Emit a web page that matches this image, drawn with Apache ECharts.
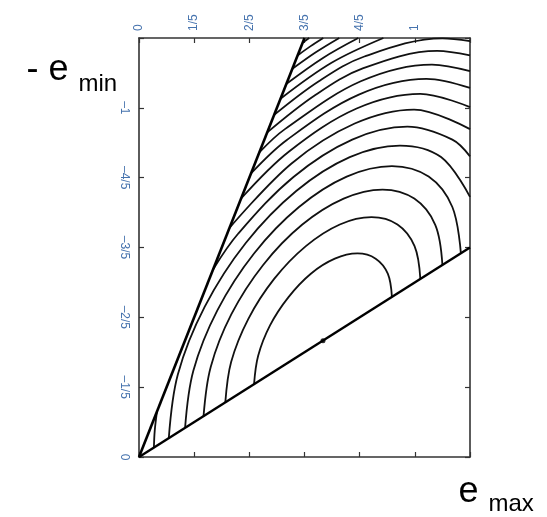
<!DOCTYPE html>
<html>
<head>
<meta charset="utf-8">
<script src="https://cdn.jsdelivr.net/npm/echarts@6/dist/echarts.min.js"></script>
<style>
  html, body { margin: 0; padding: 0; background: #fff; }
  #chart { width: 547px; height: 517px; }
</style>
</head>
<body>
<div id="chart"></div>
<script>
// Tick labels (fifths)
const xTickLabels = ['0', '1/5', '2/5', '3/5', '4/5', '1'];
const yTickLabels = ['0', '–1/5', '–2/5', '–3/5', '–4/5', '–1'];

// Wedge boundaries: e_min = -2 e_max and e_min = -e_max / 2
const upperBoundary = [[0, 0], [0.6, -1.2]];
const lowerBoundary = [[0, 0], [1.2, -0.6]];

// Uniaxial point on the lower boundary
const centerPoint = [[0.667, -0.333]];

// Level curves, innermost first ([e_max, e_min] pairs)
const level1 = [[0.917, -0.458], [0.902, -0.525], [0.858, -0.568], [0.792, -0.583], [0.710, -0.568],
                [0.623, -0.525], [0.542, -0.458], [0.475, -0.377], [0.432, -0.290], [0.417, -0.208]];
const level2 = [[1.020, -0.510], [0.999, -0.604], [0.937, -0.666], [0.843, -0.687], [0.728, -0.666],
                [0.605, -0.604], [0.490, -0.510], [0.396, -0.395], [0.334, -0.272], [0.313, -0.157]];
const level3 = [[1.100, -0.550], [1.074, -0.665], [0.998, -0.740], [0.883, -0.766], [0.742, -0.740],
                [0.591, -0.665], [0.450, -0.550], [0.335, -0.409], [0.260, -0.258], [0.234, -0.117]];
const level4 = [[1.167, -0.583], [1.136, -0.716], [1.050, -0.803], [0.917, -0.833], [0.753, -0.803],
                [0.580, -0.716], [0.417, -0.583], [0.284, -0.420], [0.197, -0.247], [0.167, -0.083]];
const level5 = [[1.2, -0.745], [1.095, -0.859], [0.946, -0.892], [0.764, -0.859], [0.570, -0.762],
                [0.387, -0.613], [0.238, -0.430], [0.141, -0.237], [0.108, -0.054]];
const level6 = [[1.2, -0.861], [1.136, -0.909], [0.973, -0.946], [0.773, -0.909], [0.560, -0.802],
                [0.360, -0.640], [0.269, -0.538]];
const level6Corner = [[0.054, -0.027], [0.057, -0.075], [0.065, -0.129]];
const level7 = [[1.2, -0.939], [0.997, -0.995], [0.782, -0.955], [0.552, -0.840], [0.328, -0.656]];
const level8 = [[1.2, -1.002], [1.020, -1.040], [0.789, -0.998], [0.544, -0.875], [0.371, -0.741]];
const level9 = [[1.2, -1.057], [1.042, -1.083], [0.797, -1.038], [0.536, -0.908], [0.406, -0.812]];
const level10 = [[1.2, -1.105], [1.062, -1.124], [0.804, -1.076], [0.529, -0.939], [0.437, -0.873]];
const level11 = [[1.2, -1.150], [1.081, -1.163], [0.811, -1.113], [0.638, -1.036], [0.464, -0.929]];
const level12 = [[1.2, -1.191], [1.100, -1.199], [0.817, -1.147], [0.652, -1.076], [0.489, -0.979]];
const level13 = [[0.886, -1.2], [0.698, -1.129], [0.513, -1.026]];
const level14 = [[0.795, -1.2], [0.667, -1.143], [0.535, -1.069]];
const level15 = [[0.726, -1.2], [0.641, -1.159], [0.555, -1.111]];
const level16 = [[0.668, -1.2], [0.621, -1.176], [0.575, -1.150]];
const level17 = [[0.617, -1.2], [0.594, -1.187]];

const levelCurves = [level1, level2, level3, level4, level5, level6, level6Corner, level7, level8,
                     level9, level10, level11, level12, level13, level14, level15, level16, level17];

const FONT = "'Liberation Sans', Arial, sans-serif";
const FRAME = '#333';
const LABEL_COLOR = '#4673ae';

function xLabel(v) { const s = xTickLabels[Math.round(v * 5)]; return s === undefined ? '' : s; }
function yLabel(v) { const s = yTickLabels[Math.round(-v * 5)]; return s === undefined ? '' : s; }

function frameAxis(extra) {
  return Object.assign({
    type: 'value',
    splitLine: { show: false },
    axisLine: { show: true, onZero: false, lineStyle: { color: FRAME, width: 1.6 } },
    axisTick: { show: true, inside: true, length: 5, lineStyle: { color: FRAME, width: 1.2 } }
  }, extra);
}

const labelStyle = { color: LABEL_COLOR, fontSize: 12, fontFamily: FONT, rotate: -90 };

const series = levelCurves.map(function (pts) {
  return {
    type: 'line', data: pts, smooth: 0.35, showSymbol: false, silent: true,
    lineStyle: { color: '#111', width: 1.8 }, z: 2
  };
});
series.push({
  type: 'line', data: upperBoundary, showSymbol: false, silent: true,
  lineStyle: { color: '#000', width: 2.6 }, z: 3
});
series.push({
  type: 'line', data: lowerBoundary, showSymbol: false, silent: true,
  lineStyle: { color: '#000', width: 2.4 }, z: 3
});
series.push({
  type: 'scatter', data: centerPoint, symbolSize: 5, silent: true,
  itemStyle: { color: '#000' }, z: 4
});

const chart = echarts.init(document.getElementById('chart'), null, { renderer: 'canvas' });
chart.setOption({
  animation: false,
  backgroundColor: '#fff',
  grid: { left: 139, top: 38, width: 331, height: 419, outerBoundsMode: 'none' },
  xAxis: [
    frameAxis({ position: 'top', min: 0, max: 1.2, interval: 0.2,
      axisLabel: Object.assign({ show: true, formatter: xLabel, margin: 7 }, labelStyle) }),
    frameAxis({ position: 'bottom', min: 0, max: 1.2, interval: 0.2, axisLabel: { show: false } })
  ],
  yAxis: [
    frameAxis({ position: 'left', min: -1.2, max: 0, interval: 0.2, inverse: true,
      axisLabel: Object.assign({ show: true, formatter: yLabel, margin: 9 }, labelStyle) }),
    frameAxis({ position: 'right', min: -1.2, max: 0, interval: 0.2, inverse: true, axisLabel: { show: false } })
  ],
  series: series,
  graphic: [
    { type: 'text', x: 26.5, y: 70.5, style: { text: '- e', font: '36px ' + FONT, fill: '#000', align: 'left', verticalAlign: 'middle' } },
    { type: 'text', x: 78.5, y: 84.7, style: { text: 'min', font: '24px ' + FONT, fill: '#000', align: 'left', verticalAlign: 'middle' } },
    { type: 'text', x: 458.6, y: 492.5, style: { text: 'e', font: '36px ' + FONT, fill: '#000', align: 'left', verticalAlign: 'middle' } },
    { type: 'text', x: 488.4, y: 504.7, style: { text: 'max', font: '24px ' + FONT, fill: '#000', align: 'left', verticalAlign: 'middle' } }
  ]
});
</script>
</body>
</html>
